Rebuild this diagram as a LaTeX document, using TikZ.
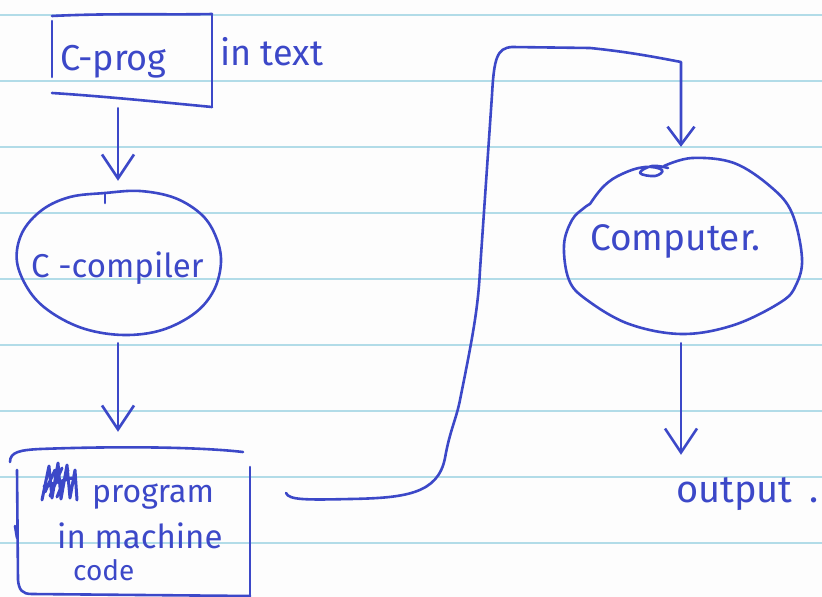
\documentclass[tikz,border=0pt]{standalone}
\usepackage{fontspec}
\setmainfont{Fira Sans}
\usetikzlibrary{arrows.meta,shapes.geometric,calc}
\definecolor{ink}{RGB}{60,72,200}
\definecolor{rulecol}{RGB}{178,220,232}
\definecolor{paper}{RGB}{253,253,253}
\begin{document}
\begin{tikzpicture}[x=1pt,y=-1pt,
  pen/.style={draw=ink, line width=2.6pt, line cap=round, line join=round},
  flow/.style={pen, -{Straight Barb[length=24pt,width=32pt]}},
  holder/.style={draw=none, inner sep=0pt},
  hand/.style={text=ink, inner sep=0pt, anchor=base west},
  ruling/.style={draw=rulecol, line width=1.1pt}]
% sheet and ruled lines
\fill[paper] (0,0) rectangle (822,597);
\useasboundingbox (0,0) rectangle (822,597);
\foreach \k in {0,...,8}
  \draw[ruling] (0,15+66*\k) -- (822,15+66*\k);

% shape holders (outlines drawn by hand below)
\node[holder, rectangle, minimum width=160pt, minimum height=93pt] (cprog) at (132,60.5) {};
\node[holder, ellipse, minimum width=204pt, minimum height=141pt] (compiler) at (118,262.5) {};
\node[holder, rectangle, minimum width=240pt, minimum height=148pt] (machine) at (130,523) {};
\node[holder, ellipse, minimum width=238pt, minimum height=175pt] (computer) at (681,245.5) {};

% box: C program
\draw[pen] (52,16) .. controls (110,13) and (170,15) .. (212,14);
\draw[pen] (52,21) -- (52,77);
\draw[pen] (212,14) -- (212,107);
\draw[pen] (52,93) .. controls (100,96) and (160,102) .. (212,107);
\node[hand, font=\fontsize{36}{40}\selectfont] (cprogtxt) at (60,70) {C-prog};
\node[hand, font=\fontsize{36}{40}\selectfont] (intext) at (220,65) {in text};

% ellipse: compiler
\draw[pen] plot[smooth cycle, tension=0.6] coordinates {
  (105,193) (140,191) (175,198) (202,215) (216,237) (221,262) (214,290)
  (195,313) (162,330) (124,335) (85,329) (52,313) (30,292) (17,262)
  (22,233) (42,210) (70,197)};
\draw[pen] (105,193) -- (105,203);
\node[hand, font=\fontsize{33}{38}\selectfont] (compilertxt) at (31,277) {C -compiler};

% box: machine code
\draw[pen] (10,462) .. controls (10,452) and (20,450) .. (40,449)
  .. controls (120,446) and (200,447) .. (243,452);
\draw[pen] (17,470) -- (18,580) .. controls (19,590) and (22,594) .. (32,594) -- (250,596);
\draw[pen] (250,467) -- (250,597);
\draw[pen] (15,526) -- (17,538);
% crossed-out letters
\draw[pen, line width=3pt] (42,500) -- (49,466) -- (52,498) -- (58,463) -- (61,499)
  -- (67,465) -- (70,498) -- (75,470) -- (77,500)
  (45,492) -- (55,470) (50,496) -- (62,468) (57,497) -- (68,470)
  (44,486) -- (72,478);
\node[hand, font=\fontsize{32}{36}\selectfont] (programtxt) at (92,502) {program};
\node[hand, font=\fontsize{33}{38}\selectfont] (inmachine) at (57,548) {in machine};
\node[hand, font=\fontsize{28}{32}\selectfont] (codetxt) at (73,580) {code};

% ellipse: computer
\draw[pen] plot[smooth, tension=0.6] coordinates {
  (664,166) (692,158) (734,163) (771,187) (792,213) (802,258) (796,285)
  (781,302) (734,325) (682,334) (629,324) (587,300) (569,280) (564,245)
  (572,220) (584,208) (590,204)};
\draw[pen] plot[smooth, tension=0.7] coordinates {
  (590,204) (604,186) (622,174) (645,167) (662,170) (655,176) (640,173) (652,166) (668,168)};
\node[hand, font=\fontsize{37}{42}\selectfont] (computertxt) at (590,250) {Computer.};

% output
\node[hand, font=\fontsize{38}{42}\selectfont] (output) at (676,502) {output\hspace{0.45em}.};

% flow connectors
\draw[flow, shorten <=1pt, shorten >=11pt] (cprog.south -| compiler.north) -- (compiler.north);
\draw[flow, shorten <=10pt, shorten >=17pt] (compiler.south) -- (compiler.south |- machine.north);
\draw[flow, shorten <=10pt, shorten >=22pt] (computer.south) -- (computer.south |- output.north);

\coordinate (exit) at (286,493);
\draw[pen, -{Straight Barb[length=18pt,width=27pt]}, shorten >=11pt]
  (exit) .. controls (289,500) and (305,500) .. (350,499)
  .. controls (405,498) and (438,494) .. (445,458)
  .. controls (450,430) and (456,420) .. (460,400)
  .. controls (472,340) and (478,310) .. (480,270)
  -- (492,95) .. controls (494,58) and (497,48) .. (512,47)
  -- (590,48) .. controls (630,52) and (660,58) .. (681,62)
  -- (computer.north);
\end{tikzpicture}
\end{document}
